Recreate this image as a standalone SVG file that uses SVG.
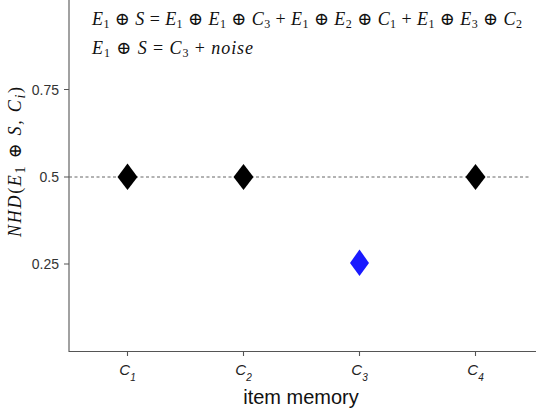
<svg xmlns="http://www.w3.org/2000/svg" width="536" height="414" viewBox="0 0 536 414">
<style>
.ax{stroke:#555;stroke-width:1.1;fill:none}
.tk{font-family:"Liberation Sans",Arial,sans-serif;font-size:14px;fill:#333}
.xt{font-family:"Liberation Sans",Arial,sans-serif;font-size:15px;font-style:italic;fill:#222}
.m{font-family:"Liberation Serif","DejaVu Serif",serif;font-size:18px;fill:#111}
.i{font-style:italic}
.dm{fill:#000}
</style>
<rect width="536" height="414" fill="#fff"/>
<g id="axes">
<path class="ax" d="M69,0 V351.5 H536"/>
<path class="ax" d="M64,89.5 H69 M64,177 H69 M64,264 H69 M127.5,351.5 V356 M243.5,351.5 V356 M359.5,351.5 V356 M475.5,351.5 V356"/>
<text class="tk" x="59" y="94.5" text-anchor="end">0.75</text>
<text class="tk" x="59" y="182" text-anchor="end">0.5</text>
<text class="tk" x="59" y="269" text-anchor="end">0.25</text>
<text class="xt" x="127.5" y="375" text-anchor="middle">C<tspan font-size="10" dy="6">1</tspan></text>
<text class="xt" x="243.5" y="375" text-anchor="middle">C<tspan font-size="10" dy="6">2</tspan></text>
<text class="xt" x="359.5" y="375" text-anchor="middle">C<tspan font-size="10" dy="6">3</tspan></text>
<text class="xt" x="475.5" y="375" text-anchor="middle">C<tspan font-size="10" dy="6">4</tspan></text>
<text x="301" y="404" text-anchor="middle" font-family="Liberation Sans,Arial,sans-serif" font-size="20" fill="#111">item memory</text>
<text class="m" transform="translate(21,162) rotate(-90)" text-anchor="middle" font-size="21" textLength="150" lengthAdjust="spacing"><tspan class="i">NHD</tspan>(<tspan class="i">E</tspan><tspan font-size="14" dy="4">1</tspan><tspan dy="-4"> ⊕ </tspan><tspan class="i">S, C</tspan><tspan class="i" font-size="14" dy="4">i</tspan><tspan dy="-4">)</tspan></text>
</g>
<g id="connectors">
<line x1="69" y1="177" x2="530" y2="177" stroke="#666" stroke-width="1" stroke-dasharray="3,2.5"/>
</g>
<g id="title">
<text class="m" x="92" y="25" textLength="430" lengthAdjust="spacing"><tspan class="i">E</tspan><tspan font-size="12" dy="3">1</tspan><tspan dy="-3"> ⊕ </tspan><tspan class="i">S</tspan> = <tspan class="i">E</tspan><tspan font-size="12" dy="3">1</tspan><tspan dy="-3"> ⊕ </tspan><tspan class="i">E</tspan><tspan font-size="12" dy="3">1</tspan><tspan dy="-3"> ⊕ </tspan><tspan class="i">C</tspan><tspan font-size="12" dy="3">3</tspan><tspan dy="-3"> + </tspan><tspan class="i">E</tspan><tspan font-size="12" dy="3">1</tspan><tspan dy="-3"> ⊕ </tspan><tspan class="i">E</tspan><tspan font-size="12" dy="3">2</tspan><tspan dy="-3"> ⊕ </tspan><tspan class="i">C</tspan><tspan font-size="12" dy="3">1</tspan><tspan dy="-3"> + </tspan><tspan class="i">E</tspan><tspan font-size="12" dy="3">1</tspan><tspan dy="-3"> ⊕ </tspan><tspan class="i">E</tspan><tspan font-size="12" dy="3">3</tspan><tspan dy="-3"> ⊕ </tspan><tspan class="i">C</tspan><tspan font-size="12" dy="3">2</tspan></text>
<text class="m" x="92" y="54" textLength="161" lengthAdjust="spacing"><tspan class="i">E</tspan><tspan font-size="12" dy="3">1</tspan><tspan dy="-3"> ⊕ </tspan><tspan class="i">S</tspan> = <tspan class="i">C</tspan><tspan font-size="12" dy="3">3</tspan><tspan dy="-3"> + </tspan><tspan class="i">noise</tspan></text>
</g>
<g id="p1"><polygon class="dm" points="127.5,163.5 137.5,177 127.5,190 117.5,177"/></g>
<g id="p2"><polygon class="dm" points="243.5,164 253.5,177 243.5,190 233.5,177"/></g>
<g id="p3"><polygon fill="#1a1aff" points="359.5,249.5 369,263 359.5,276 350,263"/></g>
<g id="p4"><polygon class="dm" points="475.5,164 485.5,177 475.5,190 465.5,177"/></g>
</svg>
